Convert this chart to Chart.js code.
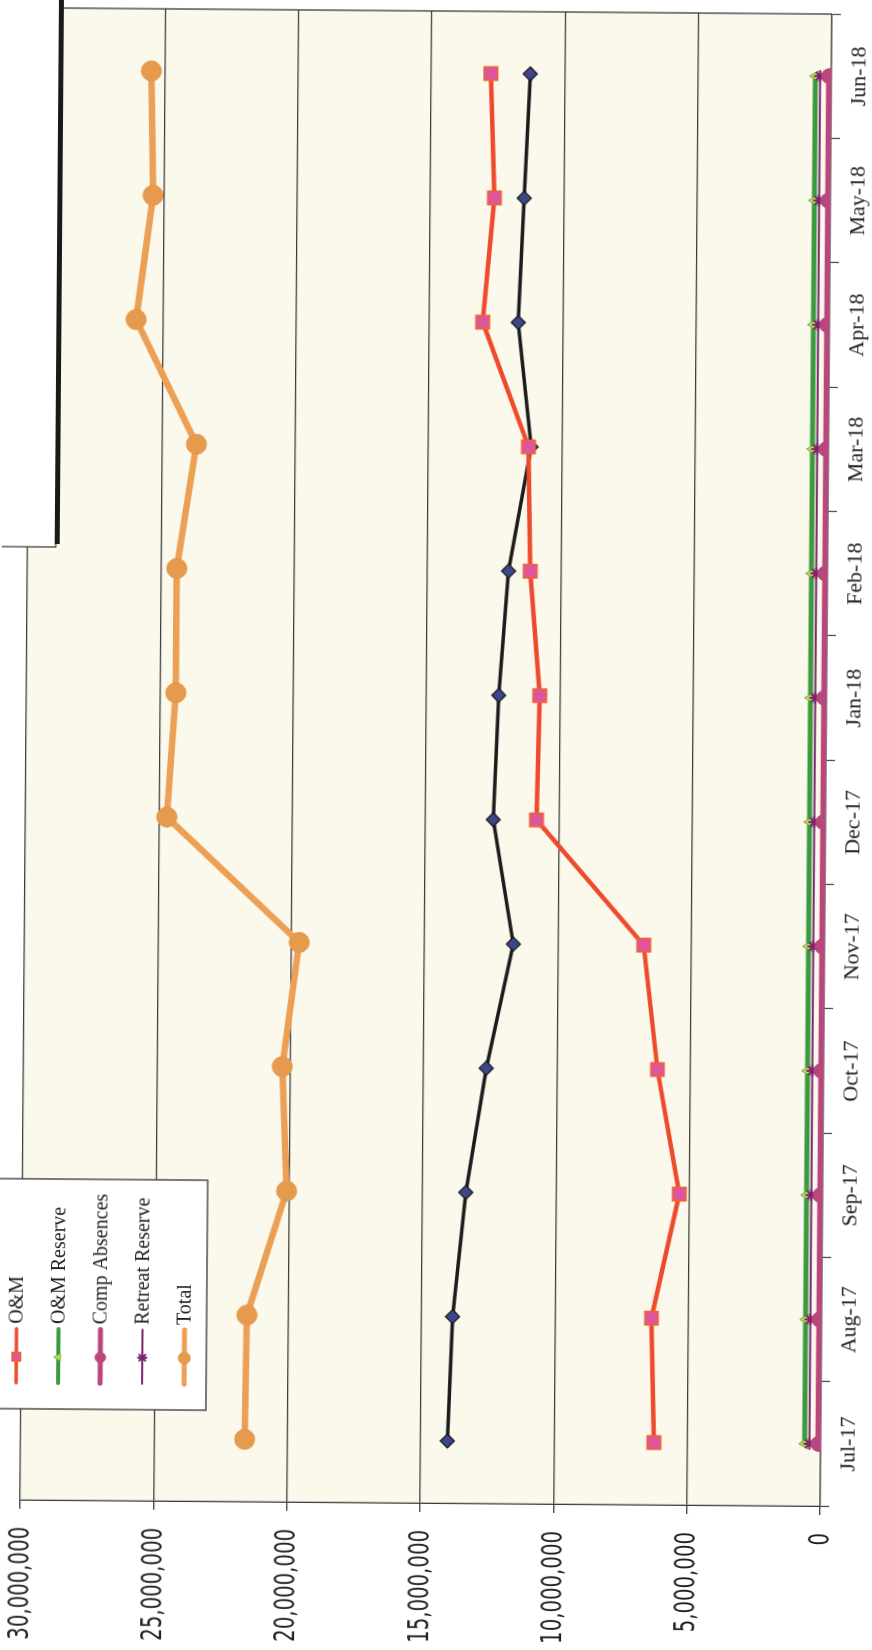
<!DOCTYPE html>
<html>
<head>
<meta charset="utf-8">
<script src="https://cdn.jsdelivr.net/npm/chart.js@4.4.1/dist/chart.umd.min.js"></script>
<style>
  html, body { margin: 0; padding: 0; background: #ffffff; width: 872px; height: 1650px; overflow: hidden; }
  /* the sheet sits a little askew */
  #page { position: absolute; left: 0; top: 0; width: 872px; height: 1650px;
          transform-origin: 436px 760px; transform: rotate(0.45deg); }
  /* the chart is laid out landscape and turned a quarter turn counter-clockwise onto the portrait page */
  #wrap { position: absolute; left: 0; top: 0; width: 1650px; height: 872px;
          transform-origin: 0 0; transform: translateY(1650px) rotate(-90deg); }
</style>
</head>
<body>
<div id="page"><div id="wrap"><canvas id="c" width="1650" height="872"></canvas></div></div>
<script>
// Monthly balances, July 2017 - June 2018
const months = ['Jul-17', 'Aug-17', 'Sep-17', 'Oct-17', 'Nov-17', 'Dec-17',
                'Jan-18', 'Feb-18', 'Mar-18', 'Apr-18', 'May-18', 'Jun-18'];

const capital        = [14000000, 13840000, 13380000, 12650000, 11670000, 12460000,
                        12290000, 11960000, 11150000, 11670000, 11480000, 11290000];
const om             = [6250000, 6380000, 5370000, 6230000, 6780000, 10840000,
                        10750000, 11150000, 11250000, 13000000, 12600000, 12770000];
const omReserve      = [600000, 600000, 600000, 600000, 600000, 600000,
                        600000, 600000, 600000, 600000, 600000, 600000];
const compAbsences   = [80000, 80000, 80000, 80000, 80000, 80000,
                        80000, 80000, 80000, 80000, 80000, 80000];
const retreatReserve = [420000, 420000, 420000, 420000, 420000, 420000,
                        420000, 420000, 420000, 420000, 420000, 420000];
const total          = [21600000, 21550000, 20100000, 20300000, 19700000, 24700000,
                        24400000, 24400000, 23700000, 26000000, 25400000, 25500000];

const valueTicks      = [0, 5000000, 10000000, 15000000, 20000000, 25000000, 30000000];
const valueTickLabels = ['0', '5,000,000', '10,000,000', '15,000,000', '20,000,000', '25,000,000', '30,000,000'];

const datasets = [
  { label: 'Capital', data: capital, borderColor: '#1c1c1c', borderWidth: 3.5,
    pointStyle: 'rectRot', pointRadius: 7, pointBackgroundColor: '#3d4689', pointBorderColor: '#111',
    pointBorderWidth: 1.2, order: 2 },
  { label: 'O&M', data: om, borderColor: '#ee4a2c', borderWidth: 4.5,
    pointStyle: 'rect', pointRadius: 9.5, pointBackgroundColor: '#df559c', pointBorderColor: '#f0642a',
    pointBorderWidth: 1.5, order: 1 },
  { label: 'O&M Reserve', data: omReserve, borderColor: '#3a9a3c', borderWidth: 5,
    pointStyle: 'triangle', pointRadius: 6, pointBackgroundColor: '#cfd83e', pointBorderColor: '#56b36a',
    pointBorderWidth: 1, order: 5 },
  { label: 'Comp Absences', data: compAbsences, borderColor: '#b9467c', borderWidth: 6,
    pointStyle: 'circle', pointRadius: 7.5, pointBackgroundColor: '#b9467c', pointBorderColor: '#b9467c',
    pointBorderWidth: 1, order: 3 },
  { label: 'Retreat Reserve', data: retreatReserve, borderColor: '#7a2470', borderWidth: 2,
    pointStyle: 'star', pointRadius: 6, pointBackgroundColor: '#7a2470', pointBorderColor: '#7a2470',
    pointBorderWidth: 2, order: 4 },
  { label: 'Total', data: total, borderColor: '#eba055', borderWidth: 6.5,
    pointStyle: 'circle', pointRadius: 10, pointBackgroundColor: '#e59a4e', pointBorderColor: '#e39548',
    pointBorderWidth: 1, order: 0 }
];

// cream plot area, frame edge and the narrow value labels
const plotBackdrop = {
  id: 'plotBackdrop',
  beforeDraw(chart) {
    const { ctx, chartArea: a } = chart;
    ctx.save();
    ctx.fillStyle = '#fbf8ec';
    ctx.fillRect(a.left, a.top, a.right - a.left, a.bottom - a.top);
    ctx.restore();
  },
  afterDatasetsDraw(chart) {
    const { ctx, chartArea: a } = chart;
    ctx.save();
    ctx.strokeStyle = '#3a3a3a';
    ctx.lineWidth = 1.3;
    ctx.beginPath();
    ctx.moveTo(a.right, a.top);
    ctx.lineTo(a.right, a.bottom);
    ctx.stroke();
    // value axis labels in a condensed face
    const ys = chart.scales.y;
    const xRight = ys.right - 9 - 18;
    ctx.fillStyle = '#1e1e1e';
    ctx.font = '29px "DejaVu Sans", Verdana, sans-serif';
    ctx.textAlign = 'right';
    ctx.textBaseline = 'middle';
    ys.ticks.forEach((t, i) => {
      const y = ys.getPixelForValue(t.value);
      ctx.save();
      ctx.translate(xRight, y);
      ctx.scale(0.68, 1);
      ctx.fillText(valueTickLabels[i], 0, 1);
      ctx.restore();
    });
    ctx.restore();
  }
};

// boxed legend and the text panel in the corner
const boxedLegend = {
  id: 'boxedLegend',
  afterDraw(chart) {
    const { ctx } = chart;
    ctx.save();
    const bx = 238, by = -10, bw = 230, bh = 221;
    ctx.fillStyle = '#ffffff';
    ctx.fillRect(bx, by, bw, bh);
    ctx.strokeStyle = '#333';
    ctx.lineWidth = 1.3;
    ctx.strokeRect(bx, by, bw, bh);
    chart.data.datasets.forEach((ds, i) => {
      const v = -21 + 42 * i;
      ctx.strokeStyle = ds.borderColor;
      ctx.lineWidth = Math.max(2, ds.borderWidth * 0.8);
      ctx.lineCap = 'round';
      ctx.beginPath();
      ctx.moveTo(264, v);
      ctx.lineTo(318, v);
      ctx.stroke();
      ctx.fillStyle = ds.pointBackgroundColor;
      ctx.strokeStyle = ds.pointBorderColor;
      ctx.lineWidth = ds.pointBorderWidth;
      Chart.helpers.drawPoint(ctx, { pointStyle: ds.pointStyle, radius: Math.min(6, ds.pointRadius * 0.7), rotation: 0, borderWidth: ds.pointBorderWidth }, 290, v);
      ctx.fillStyle = '#1e1e1e';
      ctx.font = '20px "Liberation Serif", "Times New Roman", serif';
      ctx.textAlign = 'left';
      ctx.textBaseline = 'middle';
      ctx.fillText(ds.label, 323, v + 1);
    });
    // corner panel with drop shadow
    ctx.fillStyle = '#ffffff';
    ctx.fillRect(1100, -4, 560, 58);
    ctx.strokeStyle = '#333';
    ctx.lineWidth = 1.2;
    ctx.strokeRect(1100, -4, 560, 58);
    ctx.fillStyle = '#1a1a1a';
    ctx.fillRect(1103, 53, 560, 5);
    ctx.restore();
  }
};

new Chart(document.getElementById('c'), {
  type: 'line',
  data: { labels: months, datasets },
  options: {
    responsive: false,
    animation: false,
    devicePixelRatio: 1,
    layout: { padding: { left: 0, right: 10, top: 26, bottom: 0 } },
    plugins: { legend: { display: false }, tooltip: { enabled: false } },
    elements: { line: { tension: 0, fill: false } },
    scales: {
      x: {
        offset: true,
        grid: { offset: true, drawOnChartArea: false, drawTicks: true, tickLength: 9, color: '#444', lineWidth: 1.2 },
        border: { display: true, color: '#555', width: 1.5 },
        ticks: { color: '#222', padding: 6, maxRotation: 0, autoSkip: false,
                 font: { family: '"Liberation Serif", "Times New Roman", serif', size: 22 } },
        afterFit(scale) { scale.height = 46; }
      },
      y: {
        min: 0, max: 30000000,
        afterBuildTicks(scale) { scale.ticks = valueTicks.map(v => ({ value: v })); },
        grid: { color: '#3a3a3a', lineWidth: 1.3, tickLength: 9 },
        border: { display: true, color: '#3a3a3a', width: 1.3 },
        ticks: { display: false },
        afterFit(scale) { scale.width = 147; }
      }
    }
  },
  plugins: [plotBackdrop, boxedLegend]
});
</script>
</body>
</html>
